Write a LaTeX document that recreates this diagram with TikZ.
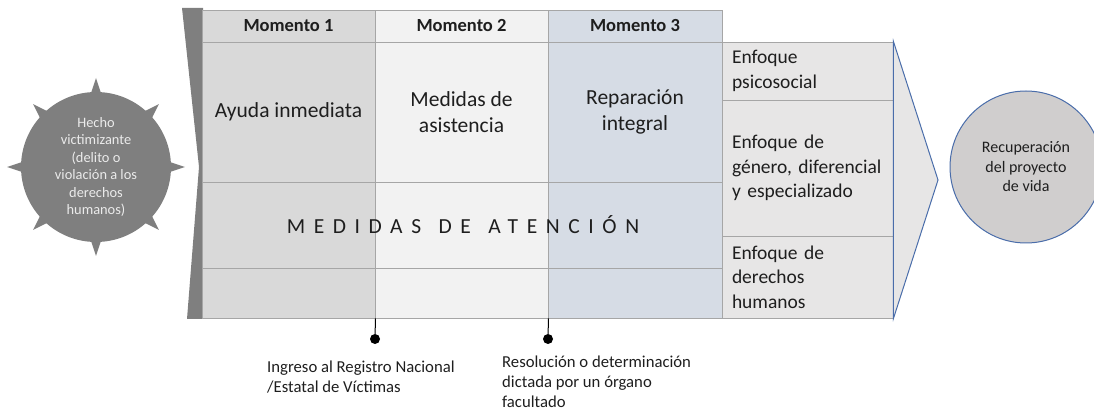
\documentclass[tikz,border=0pt]{standalone}
\usepackage{fontspec}
\setmainfont{Carlito}
\usetikzlibrary{calc}
\definecolor{darkg}{HTML}{7F7F7F}
\definecolor{colA}{HTML}{D9D9D9}
\definecolor{colB}{HTML}{F2F2F2}
\definecolor{colC}{HTML}{D6DCE5}
\definecolor{enf}{HTML}{E7E6E6}
\definecolor{gridg}{HTML}{A6A6A6}
\definecolor{blueln}{HTML}{4A6DAA}
\definecolor{goalfill}{HTML}{D0CECE}
\definecolor{txt}{HTML}{1E1E1E}
\begin{document}
\begin{tikzpicture}[x=1pt,y=-1pt,
  cell/.style={draw=gridg, line width=0.9pt, inner sep=0pt, align=center, text=txt},
  headcell/.style={cell, minimum height=32pt, font=\fontsize{18.5}{22}\selectfont\bfseries},
  maincell/.style={cell, minimum height=140pt, font=\fontsize{21.5}{26}\selectfont},
  midcell/.style={cell, minimum height=86pt},
  botcell/.style={cell, minimum height=50pt},
  enfcell/.style={draw=gridg, line width=0.9pt, fill=enf, inner xsep=10pt, inner ysep=0pt,
    text width=151pt, align=left, text=txt, font=\fontsize{19.5}{24.5}\selectfont},
  dotnode/.style={circle, fill=black, minimum size=10pt, inner sep=0pt},
  stem/.style={line width=1pt, black},
  notetext/.style={anchor=north west, inner sep=0pt, align=left, text=txt,
    font=\fontsize{16.7}{19.8}\selectfont}
]
\useasboundingbox (0,0) rectangle (1094,411);
\clip (0,0) rectangle (1094,411);

% left notch shape
\fill[darkg] (182,8) -- (203,8) -- (203,319) -- (187,319) -- (199,167) -- cycle;

% starburst
\node[circle, fill=darkg, minimum size=150pt, inner sep=0pt, align=center,
  text=white!92!black, font=\fontsize{14.4}{17.5}\selectfont] (hecho) at (96,167)
  {Hecho\\victimizante\\(delito o\\violación a los\\derechos\\humanos)};
\foreach \a in {0,45,...,315}{
  \fill[darkg] ($(hecho.center)+(\a:89pt)$) -- ($(hecho.center)+(\a+4.5:72pt)$)
    -- ($(hecho.center)+(\a-4.5:72pt)$) -- cycle;
}

% columns
\node[headcell, fill=colA, minimum width=173pt] (h1) at (288.5,26) {Momento 1};
\node[headcell, fill=colB, minimum width=173pt] (h2) at (461.5,26) {Momento 2};
\node[headcell, fill=colC, minimum width=174pt] (h3) at (635,26) {Momento 3};

\node[maincell, fill=colA, minimum width=173pt] (m1) at (288.5,112) {Ayuda inmediata};
\node[maincell, fill=colB, minimum width=173pt] (m2) at (461.5,112) {Medidas de\\asistencia};
\node[maincell, fill=colC, minimum width=174pt] (m3) at (635,112) {Reparación\\integral};

\node[midcell, fill=colA, minimum width=173pt] (c1) at (288.5,225) {};
\node[midcell, fill=colB, minimum width=173pt] (c2) at (461.5,225) {};
\node[midcell, fill=colC, minimum width=174pt] (c3) at (635,225) {};

\node[botcell, fill=colA, minimum width=173pt] (b1) at (288.5,293) {};
\node[botcell, fill=colB, minimum width=173pt] (b2) at (461.5,293) {};
\node[botcell, fill=colC, minimum width=174pt] (b3) at (635,293) {};

\node[inner sep=0pt, text=txt, font=\fontsize{21.5}{26}\selectfont\addfontfeature{LetterSpace=40}]
  (medidas) at (463,225) {MEDIDAS\hspace{4pt} DE\hspace{4pt} ATENCIÓN};

% enfoques
\node[enfcell, minimum height=58pt] (e1) at (807.5,71) {Enfoque\\psicosocial};
\node[enfcell, minimum height=136pt] (e2) at (807.5,168) {Enfoque de\\género, diferencial\\y especializado};
\node[enfcell, minimum height=82pt] (e3) at (807.5,277) {Enfoque de\\derechos\\humanos};

% chevron
\draw[blueln, line width=1pt, fill=enf] (e1.north east) -- (938,180) -- (e3.south east) -- cycle;

% goal
\node[circle, fill=goalfill, draw=blueln, line width=1pt, minimum size=152pt, inner sep=0pt,
  align=center, text=txt, font=\fontsize{16}{19.5}\selectfont] (goal) at (1026,167)
  {Recuperación\\del proyecto\\de vida};

% milestones
\node[dotnode] (d1) at (375,339) {};
\node[dotnode] (d2) at (548,339) {};
\draw[stem] (b1.south east) -- (d1);
\draw[stem] (b2.south east) -- (d2);
\node[notetext] (n1) at (267,361) {Ingreso al Registro Nacional\\/Estatal de Víctimas};
\node[notetext] (n2) at (502,356) {Resolución o determinación\\dictada por un órgano\\facultado};
\end{tikzpicture}
\end{document}
